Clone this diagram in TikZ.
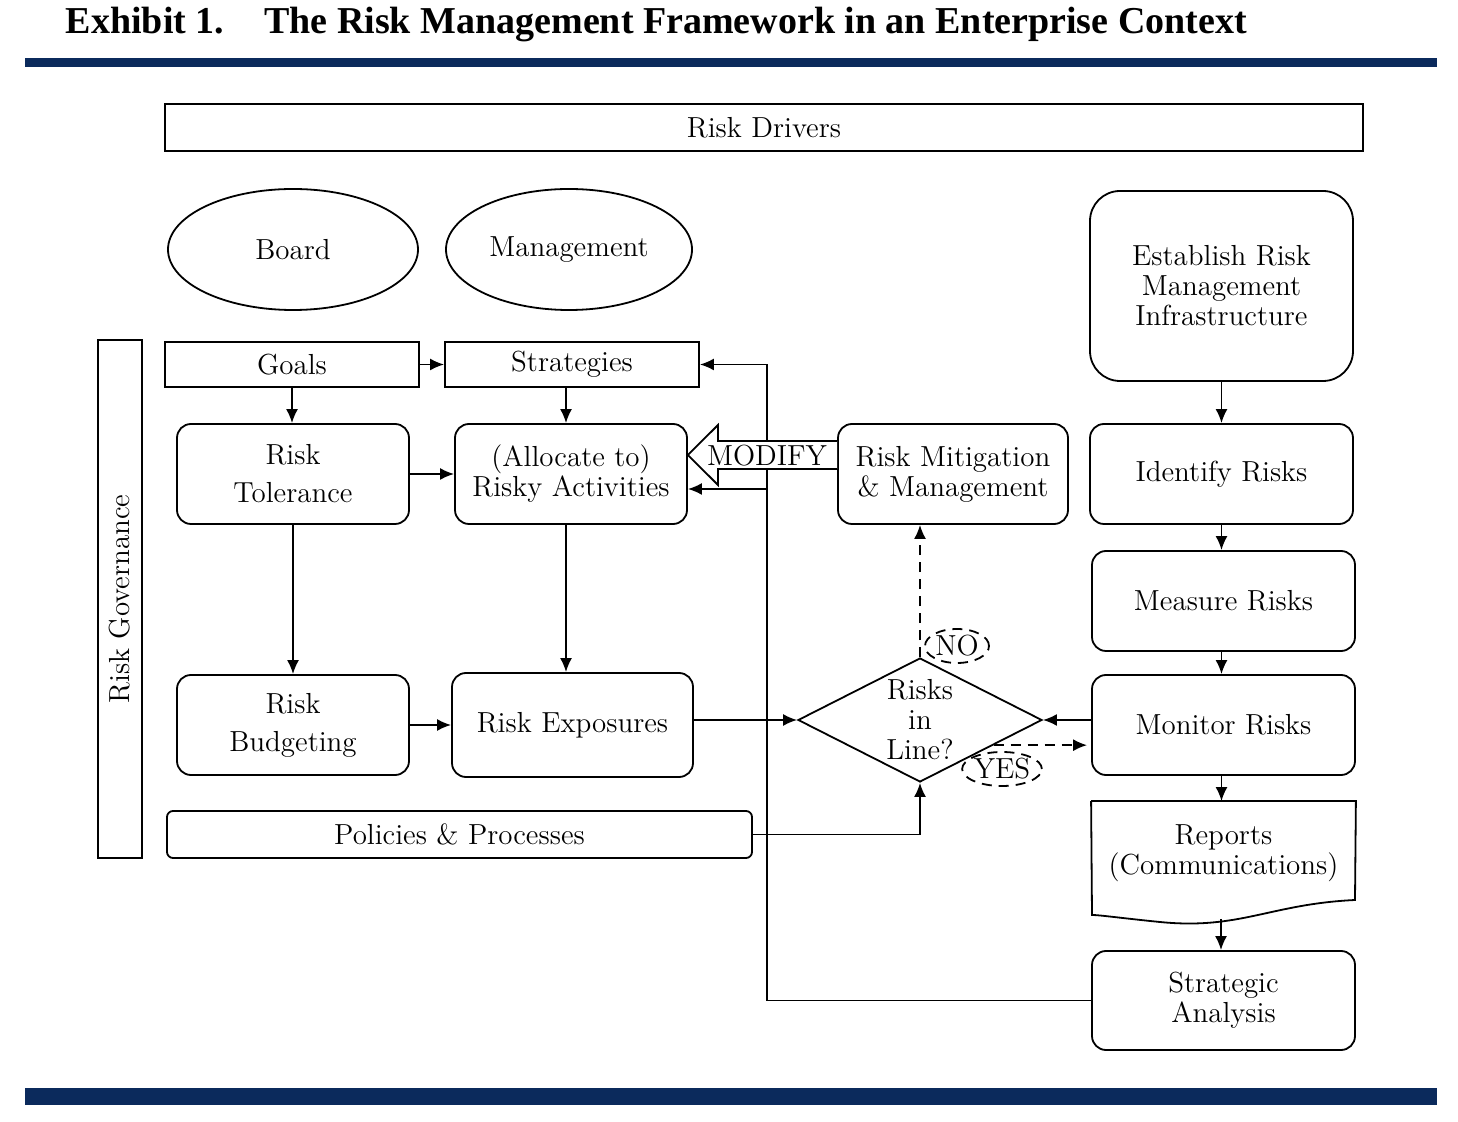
\documentclass[tikz,border=0pt]{standalone}
\usepackage{fontspec}
\newfontfamily\titolofont{Liberation Serif}
\usepackage{xcolor}
\usetikzlibrary{shapes.geometric, arrows.meta, calc}
\definecolor{blunotte}{HTML}{0B2A5C}
\newcommand{\testo}{\fontsize{14.5}{15}\selectfont}

\begin{document}
\begin{tikzpicture}[x = 0.5pt, y = -0.5pt, line width = 0.9pt,
    every node/.style = {font = \testo, align = center},
    freccia/.style = {-{Latex[length = 7pt, width = 6pt]}},
    tratteggio/.style = {dash pattern = on 5pt off 3.5pt},
    scatola/.style = {draw, rectangle, inner sep = 2pt},
    tonda/.style = {draw, rectangle, rounded corners = 7pt, inner sep = 2pt},
    ovale/.style = {draw, ellipse, inner sep = 0pt},
    etichetta/.style = {draw, ellipse, tratteggio, inner sep = 0pt, minimum width = 32pt, minimum height = 17pt}]
    \useasboundingbox (0,0) rectangle (1458,1122);
    % Titolo e barre
    \node[anchor = base west, inner sep = 0pt, font = \titolofont\bfseries\fontsize{19}{20}\selectfont] (titolo) at (65,34)
        {Exhibit 1.\hspace{20pt}The Risk Management Framework in an Enterprise Context};
    \fill[blunotte] (25,58) rectangle (1437,67);
    \fill[blunotte] (25,1088) rectangle (1437,1105);
    % Nodi
    \node[scatola, minimum width = 599pt, minimum height = 23.5pt] (drivers) at (764,127.5) {Risk Drivers};
    \node[ovale, minimum width = 125pt, minimum height = 60.5pt] (board) at (293,249.5) {Board};
    \node[ovale, minimum width = 123pt, minimum height = 60.5pt] (mgmt) at (569,249.5) {Management};
    \node[tonda, rounded corners = 15pt, minimum width = 131.5pt, minimum height = 95pt] (infra) at (1221.5,286)
        {Establish Risk\\Management\\Infrastructure};
    \node[scatola, rotate = 90, minimum width = 259pt, minimum height = 22pt] (gov) at (120,599) {Risk Governance};
    \node[scatola, minimum width = 127pt, minimum height = 22.5pt] (goals) at (292,364.5) {Goals};
    \node[scatola, minimum width = 127pt, minimum height = 22.5pt] (strategies) at (572,364.5) {Strategies};
    \node[tonda, minimum width = 116pt, minimum height = 50pt] (tol) at (293,474) {Risk\\[4pt]Tolerance};
    \node[tonda, minimum width = 116pt, minimum height = 50pt] (alloc) at (571,474) {(Allocate to)\\Risky Activities};
    \node[tonda, minimum width = 115pt, minimum height = 50pt] (mitig) at (953,474) {Risk Mitigation\\\& Management};
    \node[tonda, minimum width = 131.5pt, minimum height = 50pt] (ident) at (1221.5,474) {Identify Risks};
    \node[tonda, minimum width = 131.5pt, minimum height = 50pt] (measure) at (1223.5,601) {Measure Risks};
    \node[tonda, minimum width = 131.5pt, minimum height = 50pt] (monitor) at (1223.5,725) {Monitor Risks};
    \node[minimum width = 131.5pt, minimum height = 51pt, inner sep = 0pt] (reports) at (1223.5,853)
        {Reports\\(Communications)};
    \node[tonda, minimum width = 131.5pt, minimum height = 49.5pt] (stratan) at (1223.5,1000.5) {Strategic\\Analysis};
    \node[tonda, minimum width = 116pt, minimum height = 50pt] (budget) at (293,725) {Risk\\[4pt]Budgeting};
    \node[tonda, minimum width = 120.5pt, minimum height = 52pt] (expo) at (572.5,725) {Risk Exposures};
    \node[tonda, rounded corners = 3pt, minimum width = 292.5pt, minimum height = 23.5pt] (policies) at (459.5,834.5)
        {Policies \& Processes};
    \node[draw, diamond, aspect = 2, inner sep = 0pt, minimum width = 122pt, minimum height = 62pt] (chk) at (920,720)
        {Risks\\in\\Line?};
    % Forma del documento
    \draw (reports.north west) -- (reports.north east) -- (1355,900)
        .. controls (1270,904) and (1240,930) .. (1160,922)
        .. controls (1120,918) and (1100,915) .. (1092,915) -- (reports.north west);
    \coordinate (repbot) at (1221,919);
    % Frecce
    \draw[freccia] (goals) -- (strategies);
    \draw[freccia] (goals) -- (goals |- tol.north);
    \draw[freccia] (strategies.south -| alloc.north) ++(-5,0) coordinate (sa) -- (sa |- alloc.north);
    \draw[freccia] (tol) -- (alloc);
    \draw[freccia] (tol) -- (tol |- budget.north);
    \draw[freccia] (sa |- alloc.south) -- (sa |- expo.north);
    \draw[freccia] (budget) -- (budget -| expo.west);
    \draw[freccia] (expo.east |- chk.west) -- (chk.west);
    \draw[freccia] (monitor.west |- chk.east) -- (chk.east);
    \draw[freccia] (policies.east) -| (chk.south);
    \draw[freccia, tratteggio] (chk.north) -- (chk.north |- mitig.south);
    \draw[freccia, tratteggio] ($(chk.east)!0.4!(chk.south)$) coordinate (si) -- ($(si -| monitor.west)+(-4,0)$);
    \node[etichetta] (no) at (957,646) {NO};
    \node[etichetta] (yes) at (1002,769) {YES};
    \draw[freccia] (infra.south -| ident.north) -- (ident.north);
    \draw[freccia] (ident.south) -- (ident.south |- measure.north);
    \draw[freccia] (ident.south |- measure.south) -- (ident.south |- monitor.north);
    \draw[freccia] (ident.south |- monitor.south) -- (ident.south |- reports.north);
    \draw[freccia] (repbot) -- (repbot |- stratan.north);
    % Ritorno
    \coordinate (fb) at ($(strategies.east)+(67,0)$);
    \coordinate (allocin) at ($(alloc.east)+(0,15)$);
    \draw[freccia] (stratan.west) -| (fb) -- (strategies.east);
    \draw[freccia] (fb |- allocin) -- (allocin);
    % Freccia MODIFY
    \draw[fill = white] (mitig.west |- 0,441) -- (718,441) -- (718,425) -- (alloc.east |- 0,455)
        -- (718,485) -- (718,469) -- (mitig.west |- 0,469);
    \node[inner sep = 0pt] (modify) at (767,456) {MODIFY};
\end{tikzpicture}
\end{document}
